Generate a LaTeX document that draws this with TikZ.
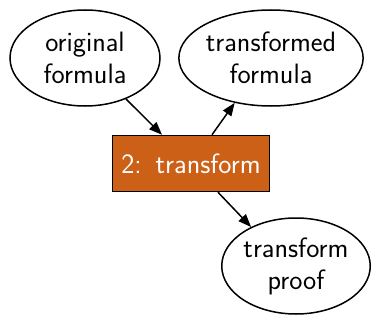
\documentclass[tikz,border=0pt]{standalone}
\usepackage{tikz}
\usetikzlibrary{shapes.geometric}
\usetikzlibrary{arrows.meta}

\definecolor{stepfill}{RGB}{204,96,22}

\begin{document}
\begin{tikzpicture}[x=1pt, y=-1pt,
    every node/.style={font=\sffamily\fontsize{28}{32}\selectfont, align=center},
    datanode/.style={ellipse, draw, line width=1.5pt, inner sep=0pt, minimum height=96pt},
    stepbox/.style={rectangle, draw, line width=1.5pt, fill=stepfill, text=white,
      minimum width=157pt, minimum height=56pt},
    flow/.style={line width=1.5pt, -{Triangle[length=13pt, width=10pt]}}
    ]
    \useasboundingbox (0,0) rectangle (372,321);
    \node[datanode, minimum width=150pt] (orig) at (85,58) {original\\formula};
    \node[datanode, minimum width=182pt] (trans) at (271,58) {transformed\\formula};
    \node[stepbox] (step) at (191,163.5) {2:\enspace transform};
    \node[datanode, minimum width=148pt] (proof) at (296,266) {transform\\proof};
    \draw[flow] (orig.-45) -- ([xshift=-29pt]step.north);
    \draw[flow] ([xshift=21pt]step.north) -- (trans.-129);
    \draw[flow] ([xshift=27pt]step.south) -- (proof.139);
  \end{tikzpicture}
\end{document}
